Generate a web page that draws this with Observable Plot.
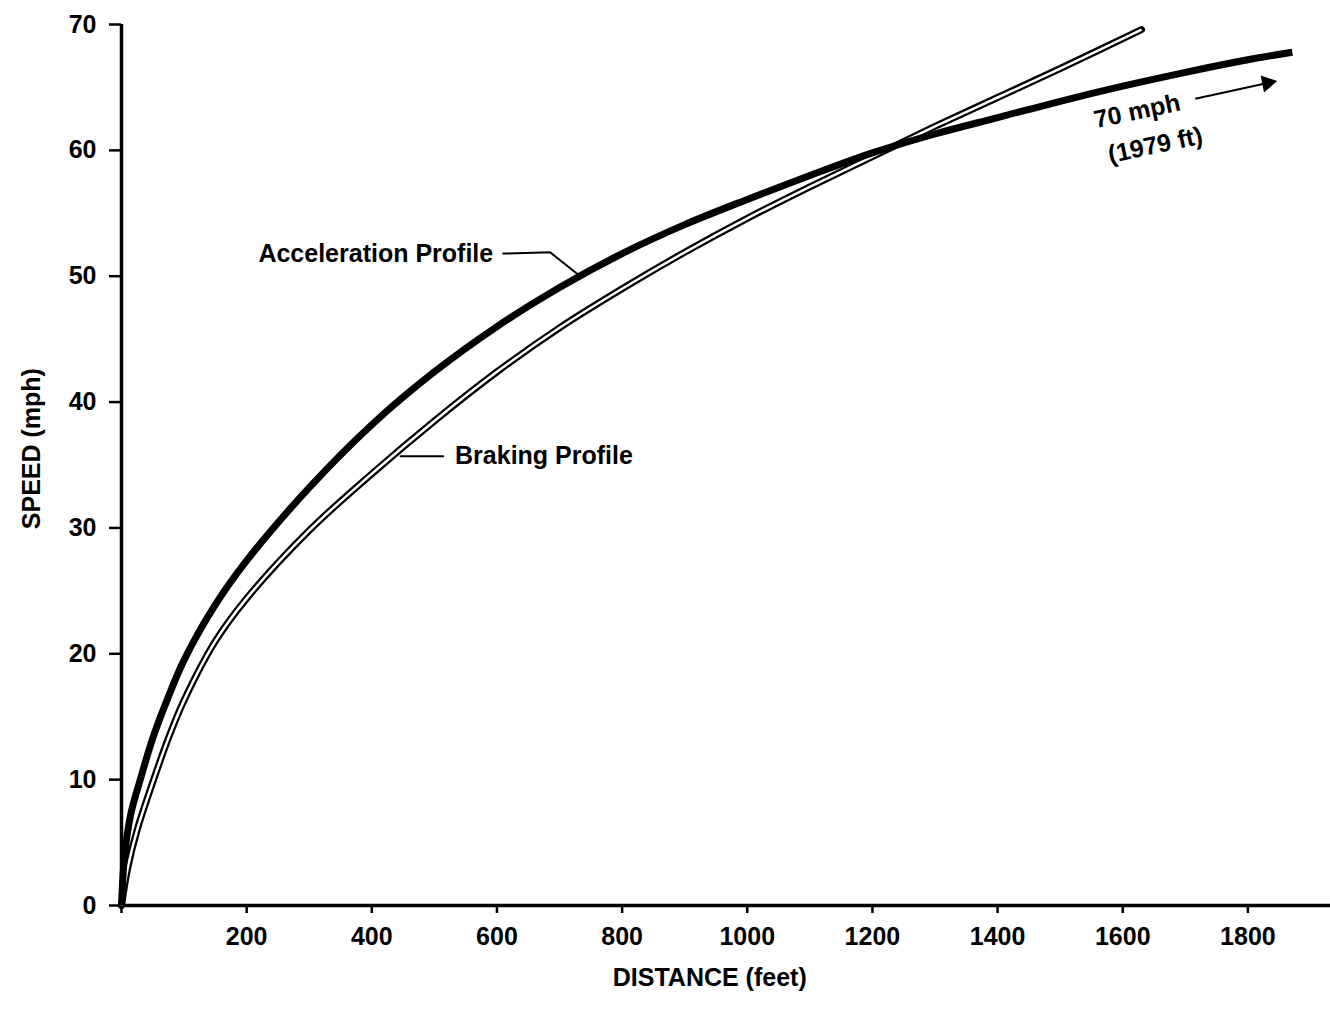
<!DOCTYPE html>
<html>
<head>
<meta charset="utf-8">
<script src="https://cdn.jsdelivr.net/npm/d3@7"></script>
<script src="https://cdn.jsdelivr.net/npm/@observablehq/plot@0.6"></script>
<style>
  html, body { margin: 0; padding: 0; background: #fff; }
  #chart svg { display: block; }
</style>
</head>
<body>
<div id="chart"></div>
<script>
// ---- data ----
const accelDistance = [0, 5, 15, 30, 50, 75, 100, 150, 200, 300, 400, 500, 600, 700, 800, 900, 1000, 1100, 1200, 1300, 1400, 1500, 1600, 1700, 1800, 1871];
const accelSpeed    = [0, 4.0, 7.3, 10.0, 13.3, 16.6, 19.5, 23.9, 27.4, 33.2, 38.2, 42.4, 46.0, 49.1, 51.8, 54.1, 56.1, 58.0, 59.8, 61.3, 62.6, 63.9, 65.1, 66.2, 67.2, 67.8];

const brakeDistance = [0, 10, 25, 50, 75, 100, 150, 200, 300, 400, 500, 600, 700, 800, 900, 1000, 1100, 1200, 1300, 1400, 1500, 1630];
const brakeSpeed    = [0, 3.0, 6.0, 9.8, 13.3, 16.3, 21.0, 24.4, 29.8, 34.3, 38.5, 42.4, 45.9, 49.0, 51.9, 54.6, 57.1, 59.5, 61.9, 64.2, 66.5, 69.6];

const xTicks = [0, 200, 400, 600, 800, 1000, 1200, 1400, 1600, 1800];
const yTicks = [0, 10, 20, 30, 40, 50, 60, 70];

const xTitle = "DISTANCE (feet)";
const yTitle = "SPEED (mph)";
const accelLabel = "Acceleration Profile";
const brakeLabel = "Braking Profile";
const noteLines = ["70 mph", "(1979 ft)"];

// ---- tables built from the arrays ----
const accel = accelDistance.map((d, i) => ({d, v: accelSpeed[i]}));
const brake = brakeDistance.map((d, i) => ({d, v: brakeSpeed[i]}));

// annotation anchors in data units
const accelLeader = [{d: 610, v: 51.8}, {d: 685, v: 51.9}, {d: 728, v: 50.2}];
const brakeLeader = [{d: 446, v: 35.7}, {d: 514, v: 35.7}];
const noteText = [{d: 1623, v: 63.1, t: noteLines[0]}, {d: 1652, v: 60.4, t: noteLines[1]}];
const noteArrow = [{x1: 1716, y1: 64.1, x2: 1826, y2: 65.3}];
const noteHead = [{d: 1831, v: 65.35}];

const font = "'Liberation Sans', Arial, Helvetica, sans-serif";
const X_MAX = 1932;

const chart = Plot.plot({
  width: 1330,
  height: 1012,
  marginLeft: 121,
  marginRight: 0,
  marginTop: 24,
  marginBottom: 107,
  style: {fontFamily: font, background: "white", color: "black"},
  x: {domain: [0, X_MAX]},
  y: {domain: [0, 70]},
  marks: [
    Plot.axisY({ticks: yTicks, tickSize: 12, tickPadding: 13, fontSize: 25, fontWeight: "bold", strokeWidth: 2.5, label: null}),
    Plot.axisX({ticks: xTicks, tickSize: 8, tickPadding: 14, fontSize: 25, fontWeight: "bold", strokeWidth: 2.5, label: null,
      tickFormat: d => d === 0 ? "" : String(d)}),
    Plot.ruleX([0], {y1: 0, y2: 70, strokeWidth: 3.5}),
    Plot.ruleY([0], {x1: 0, x2: X_MAX, strokeWidth: 3.5}),
    // braking profile: outlined double line (closed ends)
    Plot.line(brake, {x: "d", y: "v", stroke: "black", strokeWidth: 7, curve: "catmull-rom", strokeLinecap: "round"}),
    Plot.line(brake, {x: "d", y: "v", stroke: "white", strokeWidth: 2.5, curve: "catmull-rom", strokeLinecap: "butt"}),
    // acceleration profile: heavy line
    Plot.line(accel, {x: "d", y: "v", stroke: "black", strokeWidth: 7, curve: "catmull-rom", strokeLinecap: "butt"}),
    // labels and leaders
    Plot.line(accelLeader, {x: "d", y: "v", stroke: "black", strokeWidth: 2}),
    Plot.text([accelLabel], {x: 594, y: 51.8, text: d => d, textAnchor: "end", fontSize: 25, fontWeight: "bold"}),
    Plot.line(brakeLeader, {x: "d", y: "v", stroke: "black", strokeWidth: 2}),
    Plot.text([brakeLabel], {x: 533, y: 35.7, text: d => d, textAnchor: "start", fontSize: 25, fontWeight: "bold"}),
    Plot.text(noteText, {x: "d", y: "v", text: "t", rotate: -12, fontSize: 25, fontWeight: "bold"}),
    Plot.link(noteArrow, {x1: "x1", y1: "y1", x2: "x2", y2: "y2", stroke: "black", strokeWidth: 2}),
    Plot.dot(noteHead, {x: "d", y: "v", symbol: "triangle", r: 6.5, fill: "black", stroke: "none", rotate: 79}),
    // axis titles
    Plot.text([xTitle], {x: 940, frameAnchor: "bottom", dy: 80, text: d => d, fontSize: 25, fontWeight: "bold", letterSpacing: 2}),
    Plot.text([yTitle], {y: 36.3, frameAnchor: "left", dx: -90, rotate: -90, textAnchor: "middle", text: d => d, fontSize: 25, fontWeight: "bold"})
  ]
});

document.getElementById("chart").appendChild(chart);
</script>
</body>
</html>
